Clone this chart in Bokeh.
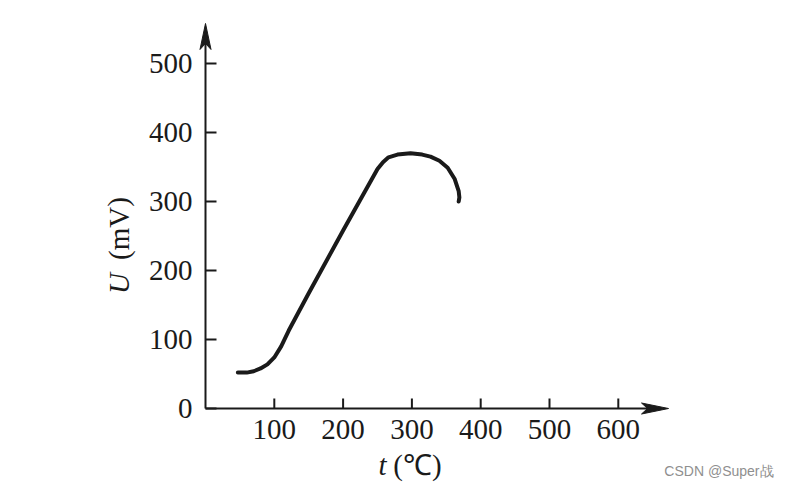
from bokeh.plotting import figure
from bokeh.models import Range1d, Label
from bokeh.core.properties import value
from bokeh.embed import file_html
from bokeh.resources import INLINE

# ---- data ----
t_vals = [47, 60, 70, 80, 90, 100, 110, 121, 150, 200, 250, 258, 266, 279, 298, 315, 327, 340, 352, 362, 368, 369, 368]
u_vals = [52, 52, 54, 58, 64, 74, 90, 113, 167, 258, 347, 357, 364, 368, 370, 368, 365, 359, 349, 333, 315, 306, 300]
x_ticks = [100, 200, 300, 400, 500, 600]
y_ticks = [0, 100, 200, 300, 400, 500]
x_tick_labels = ["100", "200", "300", "400", "500", "600"]
y_tick_labels = ["0", "100", "200", "300", "400", "500"]

# ---- layout (pixels) ----
W, H = 788, 487
OX, OY = 205, 408          # pixel position of the origin
SX, SY = 0.688, 0.69       # pixels per data unit
X_END, Y_END = 673, 558    # axis arrow tips (data units)
SERIF = "Liberation Serif"
INK = "#1a1a1a"
FS = "29px"

def dx(px):  # pixel length -> data length (x)
    return px / SX

def dy(px):
    return px / SY

def pos(xp, yp):  # canvas pixel -> data coords
    return (xp - OX) / SX, (OY - yp) / SY

p = figure(width=W, height=H, output_backend="svg", toolbar_location=None,
           x_range=Range1d(-OX / SX, (W - OX) / SX),
           y_range=Range1d(-(H - OY) / SY, OY / SY),
           min_border=0)
p.axis.visible = False
p.grid.visible = False
p.outline_line_color = None
p.background_fill_color = "white"
p.border_fill_color = "white"

# axis lines
p.segment(x0=[0, 0], y0=[0, 0], x1=[X_END - dx(10), 0], y1=[0, Y_END - dy(10)],
          line_color=INK, line_width=2)
# arrow heads
p.patches(xs=[[X_END, X_END - dx(27), X_END - dx(21), X_END - dx(27)],
              [0, -dx(5.5), 0, dx(5.5)]],
          ys=[[0, dy(5.5), 0, -dy(5.5)],
              [Y_END, Y_END - dy(26), Y_END - dy(20), Y_END - dy(26)]],
          fill_color=INK, line_color=INK, line_width=1)

# ticks (pointing inward)
p.segment(x0=x_ticks, y0=[0] * len(x_ticks), x1=x_ticks, y1=[dy(10)] * len(x_ticks),
          line_color=INK, line_width=2)
p.segment(x0=[0] * len(y_ticks), y0=y_ticks, x1=[dx(11)] * len(y_ticks), y1=y_ticks,
          line_color=INK, line_width=2)

# tick labels
p.text(x=x_ticks, y=[0] * len(x_ticks), text=x_tick_labels, text_font=value(SERIF),
       text_font_size=FS, text_color=INK, text_align="center", text_baseline="middle", y_offset=21)
p.text(x=[0] * len(y_ticks), y=y_ticks, text=y_tick_labels, text_font=value(SERIF),
       text_font_size=FS, text_color=INK, text_align="right", text_baseline="middle", x_offset=-13)

# curve
p.line(t_vals, u_vals, line_width=4, line_color=INK, line_cap="round", line_join="round")

# axis titles
def lab(xp, yp, text, **kw):
    x, y = pos(xp, yp)
    base = dict(text_font=SERIF, text_font_size=FS, text_color=INK,
                text_align="center", text_baseline="middle")
    base.update(kw)
    p.add_layout(Label(x=x, y=y, text=text, **base))

lab(382, 464, "t", text_font_style="italic")
lab(417, 464, "(℃)")
lab(118, 283, "U", text_font_style="italic", angle=1.5708)
lab(118, 228, "(mV)", angle=1.5708)

# watermark
lab(773, 470, "CSDN @Super战", text_font="Liberation Sans", text_font_size="14px",
    text_color="#8f8f8f", text_align="right")

open("out.html", "w").write(file_html(p, INLINE))
